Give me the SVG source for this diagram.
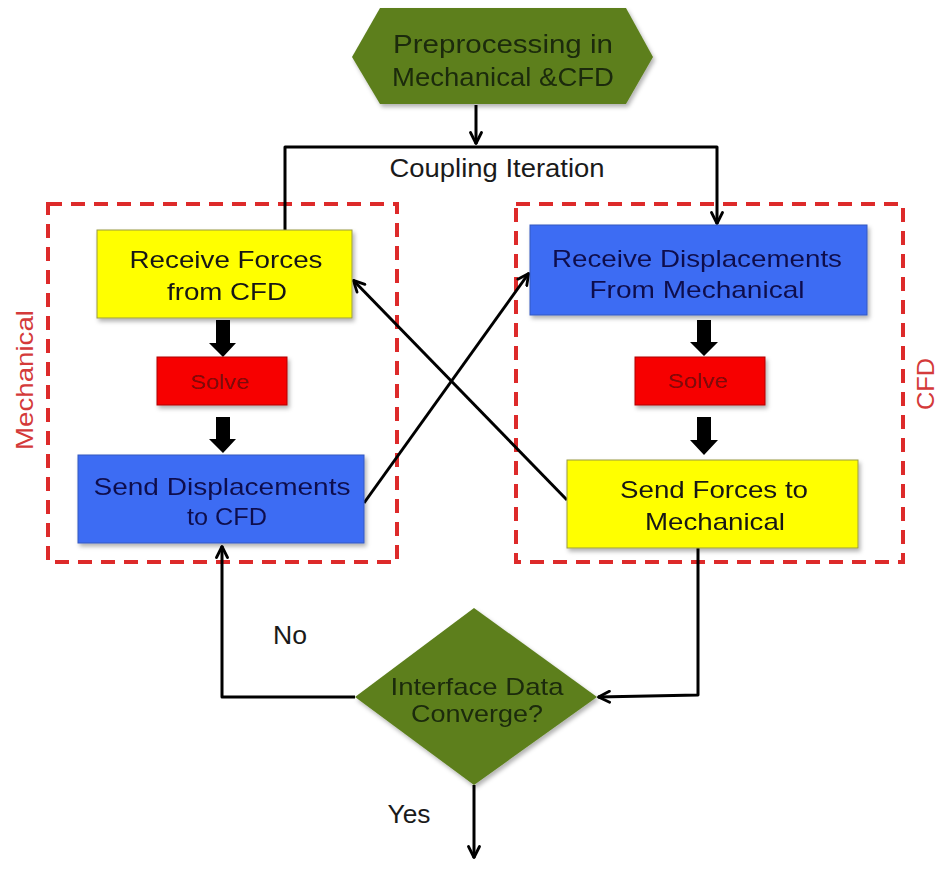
<svg xmlns="http://www.w3.org/2000/svg" width="940" height="871" viewBox="0 0 940 871">
<style>
  text { font-family: "Liberation Sans", Arial, sans-serif; text-anchor: middle; }
  .t { font-size: 24px; }
  .dark { fill: #151515; }
  .navy { fill: #10104e; }
  .green-t { fill: #1b2a08; }
  .solve-t { fill: #7a0808; font-size: 20px; }
  .lbl { fill: #1a1a1a; font-size: 25px; }
  .conn { fill: none; stroke: #000; stroke-width: 3; stroke-linejoin: round; }
  .dash { fill: none; stroke: #dd2a2a; stroke-width: 4; stroke-dasharray: 14 9; }
  .yellow { fill: #ffff00; stroke: #9a9a40; stroke-width: 1; }
  .blue { fill: #3e6cf3; stroke: #3558c0; stroke-width: 1; }
  .red { fill: #f70000; stroke: #b00000; stroke-width: 1; }
  .green { fill: #5d7f1f; }
  .thick { fill: #000; }
  .side { fill: #d43a3a; font-size: 24px; }
</style>
<defs>
  <marker id="arr" viewBox="0 0 14 14" refX="13" refY="7" markerWidth="14" markerHeight="14" markerUnits="userSpaceOnUse" orient="auto">
    <path d="M1.5,1.5 L12.5,7 L1.5,12.5" fill="none" stroke="#000" stroke-width="2.8" stroke-linecap="round" stroke-linejoin="round"/>
  </marker>
  <filter id="sh" x="-10%" y="-10%" width="125%" height="130%">
    <feDropShadow dx="2" dy="3" stdDeviation="2" flood-color="#000" flood-opacity="0.3"/>
  </filter>
</defs>
<rect width="940" height="871" fill="#ffffff"/>

<g id="groups">
  <rect class="dash" x="48" y="204" width="349" height="358"/>
  <rect class="dash" x="516" y="204" width="387" height="358"/>
  <text class="side" transform="translate(33,380) rotate(-90)" textLength="140" lengthAdjust="spacingAndGlyphs">Mechanical</text>
  <text class="side" transform="translate(934,384) rotate(-90)" textLength="52" lengthAdjust="spacingAndGlyphs">CFD</text>
</g>

<g id="connectors">
  <path class="conn" d="M476,105 L476,144" marker-end="url(#arr)"/>
  <path class="conn" d="M285,230 L285,147 L717,147 L717,224" marker-end="url(#arr)"/>
  <path class="conn" d="M364,503 L529,273" marker-end="url(#arr)"/>
  <path class="conn" d="M567,500 L353,280" marker-end="url(#arr)"/>
  <path class="conn" d="M698,548 L698,695 L598,697" marker-end="url(#arr)"/>
  <path class="conn" d="M355,697 L222,697 L222,546" marker-end="url(#arr)"/>
  <path class="conn" d="M474,785 L474,858" marker-end="url(#arr)"/>
  <polygon class="thick" points="216,320 230,320 230,343 236,343 223,357 209,343 216,343"/>
  <polygon class="thick" points="216,417 230,417 230,439 236,439 223,453 209,439 216,439"/>
  <polygon class="thick" points="697,320 711,320 711,342 718,342 704,356 690,342 697,342"/>
  <polygon class="thick" points="697,417 711,417 711,440 718,440 704,455 690,440 697,440"/>
  <text class="lbl" x="497" y="177" textLength="215" lengthAdjust="spacingAndGlyphs">Coupling Iteration</text>
  <text class="lbl" x="290" y="644" textLength="34" lengthAdjust="spacingAndGlyphs">No</text>
  <text class="lbl" x="409" y="823" textLength="43" lengthAdjust="spacingAndGlyphs">Yes</text>
</g>

<g id="preprocessing" filter="url(#sh)">
  <polygon class="green" points="352,57 380,8 626,8 653,57 626,104 380,104"/>
  <text class="green-t" x="503" y="53" style="font-size:25px" textLength="220" lengthAdjust="spacingAndGlyphs">Preprocessing in</text>
  <text class="green-t" x="503" y="86" style="font-size:25px" textLength="222" lengthAdjust="spacingAndGlyphs">Mechanical &amp;CFD</text>
</g>

<g id="receive-forces" filter="url(#sh)">
  <rect class="yellow" x="97" y="230" width="255" height="88"/>
  <text class="t dark" x="226" y="268" textLength="193" lengthAdjust="spacingAndGlyphs">Receive Forces</text>
  <text class="t dark" x="227" y="300" textLength="120" lengthAdjust="spacingAndGlyphs">from CFD</text>
</g>

<g id="solve-mech" filter="url(#sh)">
  <rect class="red" x="157" y="357" width="130" height="48"/>
  <text class="solve-t" x="220" y="389" textLength="59" lengthAdjust="spacingAndGlyphs">Solve</text>
</g>

<g id="send-displacements" filter="url(#sh)">
  <rect class="blue" x="78" y="455" width="286" height="88"/>
  <text class="t navy" x="222" y="495" textLength="257" lengthAdjust="spacingAndGlyphs">Send Displacements</text>
  <text class="t navy" x="227" y="525" textLength="80" lengthAdjust="spacingAndGlyphs">to CFD</text>
</g>

<g id="receive-displacements" filter="url(#sh)">
  <rect class="blue" x="530" y="225" width="337" height="90"/>
  <text class="t navy" x="697" y="267" textLength="290" lengthAdjust="spacingAndGlyphs">Receive Displacements</text>
  <text class="t navy" x="697" y="298" textLength="215" lengthAdjust="spacingAndGlyphs">From Mechanical</text>
</g>

<g id="solve-cfd" filter="url(#sh)">
  <rect class="red" x="635" y="357" width="130" height="48"/>
  <text class="solve-t" x="698" y="388" textLength="60" lengthAdjust="spacingAndGlyphs">Solve</text>
</g>

<g id="send-forces" filter="url(#sh)">
  <rect class="yellow" x="567" y="460" width="291" height="88"/>
  <text class="t dark" x="714" y="498" textLength="188" lengthAdjust="spacingAndGlyphs">Send Forces to</text>
  <text class="t dark" x="715" y="530" textLength="140" lengthAdjust="spacingAndGlyphs">Mechanical</text>
</g>

<g id="converge" filter="url(#sh)">
  <polygon class="green" points="474,608 597,697 474,785 355,697"/>
  <text class="t green-t" x="477" y="695" textLength="173" lengthAdjust="spacingAndGlyphs">Interface Data</text>
  <text class="t green-t" x="477" y="722" textLength="132" lengthAdjust="spacingAndGlyphs">Converge?</text>
</g>
</svg>
